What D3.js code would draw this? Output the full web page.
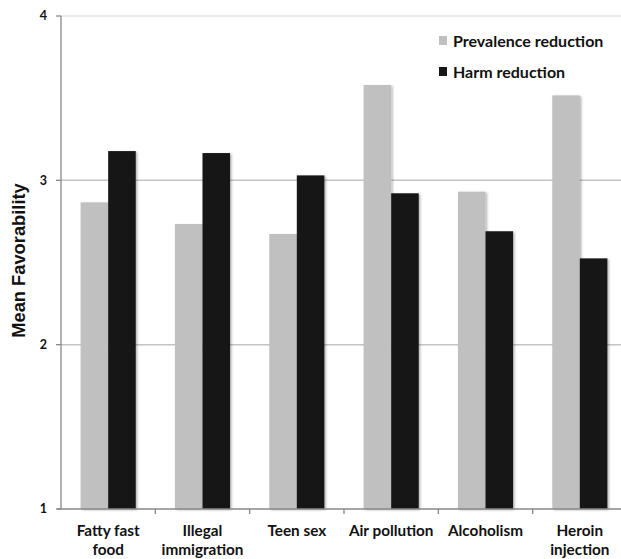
<!DOCTYPE html>
<html><head><meta charset="utf-8">
<script src="https://cdn.jsdelivr.net/npm/d3@7"></script>
<style>body{margin:0;background:#fff}svg{display:block}text{font-family:Lato,"Open Sans",sans-serif;font-weight:bold;fill:#111}</style>
</head><body>
<script>
const categories = [["Fatty fast","food"],["Illegal","immigration"],["Teen sex"],["Air pollution"],["Alcoholism"],["Heroin","injection"]];
const seriesNames = ["Prevalence reduction","Harm reduction"];
const prevalence = [2.866, 2.734, 2.673, 3.58, 2.931, 3.517];
const harm = [3.178, 3.166, 3.03, 2.921, 2.69, 2.525];
const yTicks = [1,2,3,4];
const colors = ["#c0c0c0","#161616"];

(function(){
const W=621,H=559;
const svg=d3.select("body").append("svg").attr("width",W).attr("height",H);
const defs=svg.append("defs");
const f=defs.append("filter").attr("id","sh").attr("x","-20%").attr("y","-5%").attr("width","150%").attr("height","115%");
f.append("feDropShadow").attr("dx",1.5).attr("dy",1).attr("stdDeviation",1.2).attr("flood-color","#000").attr("flood-opacity",0.3);

const pl=61,pr=627,pt=16,pb=509;
const keys=categories.map(c=>c.join(" "));
const x=d3.scaleBand().domain(keys).range([pl,pr]).paddingInner(0.416).paddingOuter(0.208);
const xs=d3.scaleBand().domain([0,1]).range([0,x.bandwidth()]);
const y=d3.scaleLinear().domain([1,4]).range([pb,pt]);
const step=x.step();

svg.append("g").selectAll("line").data(yTicks.filter(t=>t>1)).join("line")
  .attr("x1",pl).attr("x2",pr).attr("y1",d=>y(d)).attr("y2",d=>y(d))
  .attr("stroke",d=>d===4?"#e2e2e2":"#c4c4c4").attr("stroke-width",1.5);

const data=keys.map((k,i)=>({k,v:[prevalence[i],harm[i]]}));
const g=svg.append("g");
data.forEach(d=>{
  d.v.forEach((v,j)=>{
    g.append("rect").attr("x",x(d.k)+xs(j)).attr("width",xs.bandwidth())
     .attr("y",y(v)).attr("height",y(1)-y(v)).attr("fill",colors[j]).attr("filter","url(#sh)");
  });
});

const ax=svg.append("g").attr("stroke","#888").attr("stroke-width",1.3);
ax.append("line").attr("x1",pl).attr("x2",pl).attr("y1",pt).attr("y2",pb);
ax.append("line").attr("x1",pl-4).attr("x2",pr).attr("y1",pb).attr("y2",pb);
yTicks.forEach(t=>ax.append("line").attr("x1",pl-5).attr("x2",pl).attr("y1",y(t)).attr("y2",y(t)));
keys.forEach((k,i)=>{ if(i>0){const bx=x(k)+x.bandwidth()/2-step/2; ax.append("line").attr("x1",bx).attr("x2",bx).attr("y1",pb).attr("y2",pb+5);} });

svg.append("g").selectAll("text").data(yTicks).join("text")
  .attr("x",47).attr("y",d=>y(d)).attr("dy","0.35em").attr("text-anchor","end")
  .attr("font-size",12.5).text(d=>d);

categories.forEach((c,i)=>{
  const cx=x(keys[i])+x.bandwidth()/2;
  c.forEach((line,li)=>{
    svg.append("text").attr("x",cx).attr("y",536+li*18.5).attr("text-anchor","middle").attr("font-size",15.3).text(line);
  });
});

svg.append("text").attr("transform","translate(25,260.5) rotate(-90)").attr("text-anchor","middle")
  .style("font-family","'Liberation Sans',Arial,sans-serif").attr("font-size",18.3).text("Mean Favorability");

seriesNames.forEach((s,i)=>{
  const ly=36+i*31;
  svg.append("rect").attr("x",439).attr("y",ly).attr("width",8).attr("height",9).attr("fill",colors[i]);
  svg.append("text").attr("x",453).attr("y",ly+11).attr("font-size",16).text(s);
});
})();
</script>
</body></html>
